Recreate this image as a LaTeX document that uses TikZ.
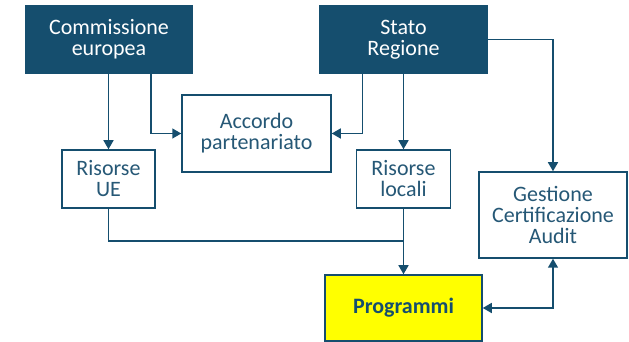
\documentclass[tikz,border=0pt]{standalone}
\usepackage{fontspec}
\setmainfont{Carlito}
\usetikzlibrary{arrows.meta}
\definecolor{navy}{RGB}{21,78,110}
\definecolor{boxtext}{RGB}{38,88,118}
\definecolor{yellowfill}{RGB}{255,255,0}

\begin{document}
\begin{tikzpicture}[x=1pt,y=1pt,
  darkbox/.style={draw=navy,fill=navy,text=white,line width=1.5pt,align=center,inner sep=0pt},
  lightbox/.style={draw=navy,fill=white,text=boxtext,line width=1.5pt,align=center,inner sep=0pt},
  link/.style={draw=navy,line width=1.5pt},
  tip/.style={-{Triangle[width=10pt,length=9pt]}}]
\useasboundingbox (0,0) rectangle (629,342);
\fontsize{22}{21}\selectfont
\node[darkbox,minimum width=166pt,minimum height=67pt] (comm) at (109,302.5) {Commissione\\europea};
\node[darkbox,minimum width=167pt,minimum height=67pt] (stato) at (403.5,302.5) {Stato\\Regione};
\node[lightbox,minimum width=149pt,minimum height=77pt] (accordo) at (256.5,208.5) {Accordo\\partenariato};
\node[lightbox,minimum width=93pt,minimum height=58pt] (rue) at (108.5,163) {Risorse\\UE};
\node[lightbox,minimum width=94pt,minimum height=58pt] (rloc) at (403.5,163) {Risorse\\locali};
\node[lightbox,minimum width=148pt,minimum height=86pt] (gca) at (553,127) {Gestione\\Certificazione\\Audit};
\node[lightbox,fill=yellowfill,text=navy,minimum width=157pt,minimum height=66pt,font=\bfseries] (prog) at (403.5,34) {Programmi};
\coordinate (join) at (403.5,101);
% frecce
\draw[link,tip] (rue.north |- comm.south) -- (rue.north);
\draw[link,tip] ([xshift=42pt]comm.south) |- (accordo.west);
\draw[link,tip] ([xshift=-41pt]stato.south) |- (accordo.east);
\draw[link,tip] (stato.south) -- (rloc.north);
\draw[link,tip] (stato.east) -| (gca.north);
\draw[link] (rue.south) |- (join);
\draw[link,tip] (rloc.south) -- (prog.north);
\draw[link,{Triangle[width=10pt,length=9pt]}-{Triangle[width=10pt,length=9pt]}] (prog.east) -| (gca.south);
\end{tikzpicture}
\end{document}
